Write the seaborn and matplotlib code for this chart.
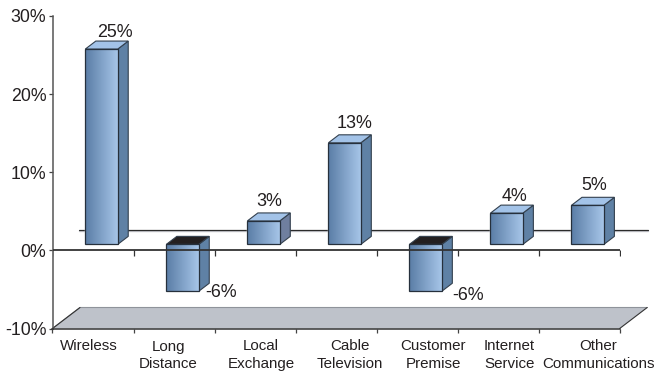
"""3D-look bar chart of communications segments."""
import matplotlib
matplotlib.use('Agg')
import matplotlib.pyplot as plt
import numpy as np
import pandas as pd
import seaborn as sns
from matplotlib.colors import LinearSegmentedColormap
from matplotlib.lines import Line2D
from matplotlib.patches import Polygon
from matplotlib.transforms import Affine2D

categories = ['Wireless', 'Long\nDistance', 'Local\nExchange', 'Cable\nTelevision',
              'Customer\nPremise', 'Internet\nService', 'Other\nCommunications']
values = [25, -6, 3, 13, -6, 4, 5]
value_labels = ['25%', '-6%', '3%', '13%', '-6%', '4%', '5%']
y_ticks = [-10, 0, 10, 20, 30]
y_tick_labels = ['-10%', '0%', '10%', '20%', '30%']

W, H = 655, 374
AX_L, AX_R, AX_TOP, AX_BOT = 52.5, 619.7, 16, 328.5
PX_X = (AX_R - AX_L) / 7
PX_Y = (AX_BOT - AX_TOP) / 40
DEPTH_X, DEPTH_Y = 10.5 / PX_X, 8 / PX_Y
value_shift = [(22, 22.5), (47, 4.5), (14.5, 25.5), (18, 25.5), (50.7, 1.5), (16, 22.5), (15, 26)]
cat_shift = [-4, -6, 6, 14, 16, 11, 19]

TEXT = '#231f20'
sns.set_theme(style='white')
plt.rcParams['font.family'] = ['Liberation Sans', 'DejaVu Sans']

fig = plt.figure(figsize=(W / 100, H / 100), dpi=100)
ax = fig.add_axes([AX_L / W, 1 - AX_BOT / H, (AX_R - AX_L) / W, (AX_BOT - AX_TOP) / H])
df = pd.DataFrame({'category': categories, 'value': values})
sns.barplot(data=df, x='category', y='value', width=0.40, color='#7f9fc6', ax=ax, zorder=4)
bars = list(ax.patches)
ax.set_xlim(-0.5, 6.5)
ax.set_ylim(-10, 30)

# floor and back wall line
fx, fy = 27.5 / PX_X, 21 / PX_Y
ax.add_patch(Polygon([(-0.5, -10), (-0.5 + fx, -10 + fy), (6.5 + fx, -10 + fy), (6.5, -10)],
                     closed=True, facecolor='#bec2ca', edgecolor='none', clip_on=False, zorder=1))
ax.add_line(Line2D([-0.5, -0.5 + fx, 6.5 + fx], [-10, -10 + fy, -10 + fy], color='#8f939a', lw=0.8, clip_on=False, zorder=1.5))
ax.add_line(Line2D([-0.5, -0.5 + fx], [-10, -10 + fy], color='#333333', lw=0.8, clip_on=False, zorder=1.6))
ax.add_line(Line2D([6.5, 6.5 + fx], [-10, -10 + fy], color='#333333', lw=0.8, clip_on=False, zorder=1.6))
wall = 20.8 / PX_Y
wall_x = [-0.5 + 26.5 / PX_X, 6.5 + 28 / PX_X]
ax.add_line(Line2D(wall_x, [wall, wall], color='#2b2b2b', lw=0.9, clip_on=False, zorder=2))
ax.add_line(Line2D(wall_x, [wall - 1.2 / PX_Y] * 2, color='#c9cbd0', lw=1.0, clip_on=False, zorder=1.9))

# zero line with its ticks, it runs across the negative bars
bounds = np.arange(-0.5, 7)
ax.plot(bounds, np.zeros(len(bounds)), color='#333333', lw=1.3, marker=3, ms=4, mew=0.9, zorder=5)

# bars sit forward of the axis plane
shift = ax.transData + Affine2D().translate(8.5, 6)
gradient = np.linspace(0, 1, 64).reshape(1, -1)
cmap = LinearSegmentedColormap.from_list('bar', ['#5a7da6', '#a6c5e8'])
for i, bar in enumerate(bars):
    x0, x1 = bar.get_x(), bar.get_x() + bar.get_width()
    lo, hi = sorted([bar.get_y(), bar.get_y() + bar.get_height()])
    bar.set_transform(shift)
    bar.set_clip_on(False)
    im = ax.imshow(gradient, extent=(x0, x1, lo, hi), aspect='auto', cmap=cmap, zorder=4.1, transform=shift)
    im.set_clip_path(bar)
    ax.add_patch(Polygon([(x0, lo), (x1, lo), (x1, hi), (x0, hi)], closed=True, fill=False,
                         edgecolor='#26303c', lw=0.9, transform=shift, clip_on=False, zorder=4.3))
    side_col = '#6f7f9f' if values[i] == 3 else '#5f81a5'
    top_col = '#231f20' if values[i] < 0 else '#a3c3e8'
    ax.add_patch(Polygon([(x1, lo), (x1 + DEPTH_X, lo + DEPTH_Y), (x1 + DEPTH_X, hi + DEPTH_Y), (x1, hi)],
                         closed=True, facecolor=side_col, edgecolor='#33404e', lw=0.8,
                         transform=shift, clip_on=False, zorder=4))
    ax.add_patch(Polygon([(x0, hi), (x1, hi), (x1 + DEPTH_X, hi + DEPTH_Y), (x0 + DEPTH_X, hi + DEPTH_Y)],
                         closed=True, facecolor=top_col, edgecolor='#33404e', lw=0.8,
                         transform=shift, clip_on=False, zorder=4))
    ax.annotate(value_labels[i], xy=(i, values[i]), xytext=value_shift[i], textcoords='offset pixels',
                ha='center', va='center', fontsize=12.9, color=TEXT, zorder=6)
ax.set_xlim(-0.5, 6.5)
ax.set_ylim(-10, 30)

# axes
sns.despine(ax=ax)
ax.spines['left'].set_color('#555555')
ax.spines['left'].set_linewidth(1.1)
ax.spines['bottom'].set_color('#333333')
ax.spines['bottom'].set_linewidth(1.1)
ax.set_xlabel('')
ax.set_ylabel('')
ax.set_yticks(y_ticks)
ax.set_yticklabels(y_tick_labels, fontsize=12.8, color=TEXT)
ax.set_xticks(bounds)
ax.set_xticklabels([])
ax.tick_params(axis='both', which='major', left=True, bottom=True, length=3, width=0.9, color='#444444', pad=1.5)

for i, name in enumerate(categories):
    ax.annotate(name, xy=(i, -10), xytext=(cat_shift[i], -11), textcoords='offset pixels',
                ha='center', va='top', fontsize=10.9, color=TEXT, linespacing=1.3, annotation_clip=False)

fig.savefig('out.png', dpi=100)
